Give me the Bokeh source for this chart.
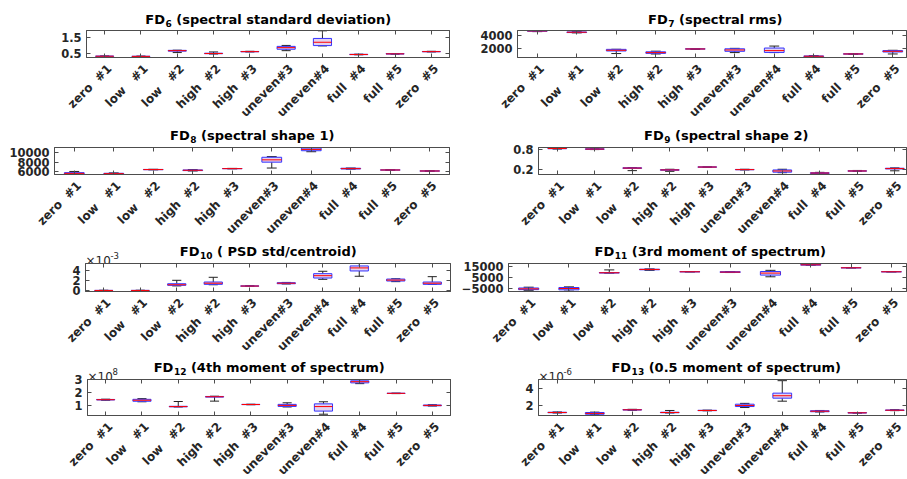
import math
import numpy as np
from bokeh.plotting import figure
from bokeh.layouts import column, row
from bokeh.models import (FixedTicker, LinearAxis, Range1d,
                          CustomJSTickFormatter, ColumnDataSource)
from bokeh.core.properties import value
from bokeh.embed import file_html
from bokeh.resources import INLINE

CATEGORIES = ["zero  #1", "low   #1", "low   #2", "high  #2", "high  #3",
              "uneven#3", "uneven#4", "full  #4", "full  #5", "zero  #5"]

# ---- FD6 (spectral standard deviation)
FD6_LO  = [0.30, 0.29, 0.56, 0.47, 0.60, 0.68, 0.98, 0.42, 0.46, 0.60]
FD6_Q1  = [0.32, 0.31, 0.65, 0.49, 0.61, 0.77, 1.00, 0.43, 0.47, 0.61]
FD6_MED = [0.33, 0.32, 0.68, 0.50, 0.62, 0.87, 1.21, 0.44, 0.48, 0.62]
FD6_Q3  = [0.34, 0.33, 0.70, 0.52, 0.63, 0.95, 1.45, 0.45, 0.49, 0.63]
FD6_HI  = [0.35, 0.34, 0.71, 0.60, 0.64, 1.01, 1.93, 0.46, 0.50, 0.64]
FD6_TICKS = [0.5, 1.5]

# ---- FD7 (spectral rms)
FD7_LO  = [4620, 4420, 1120, 1050, 1800, 1275, 1275, 550, 1000, 1055]
FD7_Q1  = [4680, 4470, 1530, 1150, 1830, 1480, 1300, 620, 1030, 1370]
FD7_MED = [4730, 4520, 1640, 1270, 1850, 1690, 1590, 690, 1055, 1480]
FD7_Q3  = [4770, 4570, 1790, 1400, 1880, 1880, 2000, 740, 1080, 1590]
FD7_HI  = [4790, 4600, 1800, 1500, 1900, 1950, 2315, 780, 1120, 1640]
FD7_TICKS = [2000, 4000]

# ---- FD8 (spectral shape 1)
FD8_LO  = [5480, 5470, 6440, 6200, 6650, 6820, 10260, 6600, 6370, 6150]
FD8_Q1  = [5560, 5560, 6470, 6280, 6680, 8060, 10470, 6620, 6390, 6180]
FD8_MED = [5700, 5640, 6500, 6350, 6700, 8550, 10740, 6700, 6410, 6200]
FD8_Q3  = [5850, 5720, 6530, 6420, 6720, 9090, 11030, 6780, 6430, 6220]
FD8_HI  = [6100, 5800, 6560, 6480, 6750, 9230, 11150, 6820, 6450, 6250]
FD8_TICKS = [6000, 8000, 10000]

# ---- FD9 (spectral shape 2)
FD9_LO  = [0.800, 0.785, 0.170, 0.150, 0.265, 0.190, 0.110, 0.070, 0.145, 0.165]
FD9_Q1  = [0.810, 0.790, 0.235, 0.180, 0.270, 0.195, 0.125, 0.085, 0.155, 0.220]
FD9_MED = [0.817, 0.800, 0.245, 0.190, 0.275, 0.200, 0.160, 0.100, 0.160, 0.230]
FD9_Q3  = [0.830, 0.810, 0.255, 0.200, 0.280, 0.205, 0.190, 0.110, 0.165, 0.240]
FD9_HI  = [0.840, 0.820, 0.260, 0.210, 0.285, 0.210, 0.210, 0.120, 0.175, 0.250]
FD9_TICKS = [0.2, 0.8]

# ---- FD10 ( PSD std/centroid), x 1e-3
FD10_LO  = [0.05, 0.05, 0.98, 1.20, 0.90, 1.35, 2.25, 2.84, 1.80, 1.28]
FD10_Q1  = [0.08, 0.08, 1.09, 1.28, 0.93, 1.40, 2.50, 3.86, 1.92, 1.28]
FD10_MED = [0.10, 0.10, 1.20, 1.50, 0.95, 1.50, 2.95, 4.45, 2.10, 1.50]
FD10_Q3  = [0.12, 0.12, 1.40, 1.73, 0.98, 1.60, 3.34, 4.83, 2.30, 1.73]
FD10_HI  = [0.15, 0.15, 2.06, 2.64, 1.00, 1.65, 3.80, 5.30, 2.35, 2.76]
FD10_TICKS = [0, 2, 4]

# ---- FD11 (3rd moment of spectrum)
FD11_LO  = [-7000, -7360, 9000, 11500, 10100, 9500, 5640, 16000, 13700, 10100]
FD11_Q1  = [-6000, -6180, 9100, 12000, 10150, 9600, 7180, 16200, 13750, 10150]
FD11_MED = [-5300, -5000, 9300, 12300, 10200, 9900, 9000, 16500, 13800, 10200]
FD11_Q3  = [-4500, -4090, 9400, 12500, 10250, 10300, 10450, 16800, 13850, 10250]
FD11_HI  = [-3800, -3500, 11900, 12800, 10300, 10400, 11500, 17600, 13900, 10300]
FD11_TICKS = [-5000, 5000, 15000]

# ---- FD12 (4th moment of spectrum), x 1e8
FD12_LO  = [1.40, 1.28, 0.88, 1.33, 1.05, 0.88, 0.32, 2.68, 1.91, 0.95]
FD12_Q1  = [1.42, 1.32, 0.89, 1.64, 1.06, 0.92, 0.56, 2.74, 1.92, 0.97]
FD12_MED = [1.44, 1.40, 0.91, 1.67, 1.07, 1.00, 0.91, 2.83, 1.93, 1.00]
FD12_Q3  = [1.46, 1.47, 0.93, 1.69, 1.08, 1.08, 1.12, 2.90, 1.94, 1.03]
FD12_HI  = [1.48, 1.52, 1.30, 1.71, 1.09, 1.20, 1.28, 3.00, 1.95, 1.05]
FD12_TICKS = [1, 2, 3]

# ---- FD13 (0.5 moment of spectrum), x 1e-6
FD13_LO  = [1.10, 0.90, 1.42, 1.10, 1.36, 1.75, 2.51, 1.22, 1.08, 1.38]
FD13_Q1  = [1.13, 0.95, 1.45, 1.13, 1.38, 1.87, 2.87, 1.25, 1.10, 1.40]
FD13_MED = [1.16, 1.05, 1.48, 1.16, 1.40, 2.00, 3.16, 1.31, 1.12, 1.43]
FD13_Q3  = [1.19, 1.16, 1.51, 1.19, 1.42, 2.15, 3.47, 1.37, 1.14, 1.46]
FD13_HI  = [1.22, 1.20, 1.54, 1.40, 1.44, 2.25, 4.96, 1.40, 1.16, 1.49]
FD13_TICKS = [2, 4]

FONT = "DejaVu Sans"
AX_COLOR = "#4d4d4d"
BOX_LINE = "#3434ff"
BOX_FILL = "#e4d2ee"
MED_COLOR = "#ff0000"
WHISK = "#222222"

COL_X = [0, 453]          # canvas x of each column
COL_W = [453, 454]
TITLE_H = [30, 26, 26, 26]
FRAME_H = [27, 27, 28, 36]
LABEL_H = [64, 63, 62, 64]
PAD = 9                   # overlapping border of each panel (top / bottom)

# approximate DejaVu Sans Bold advance widths (em)
_BW = {' ': .348, '(': .457, ')': .457, '.': .380, '/': .365, '#': .838,
       'A': .774, 'D': .830, 'F': .683, 'P': .733, 'S': .720,
       'a': .675, 'b': .716, 'c': .593, 'd': .716, 'e': .678, 'f': .435,
       'g': .716, 'h': .712, 'i': .343, 'k': .665, 'l': .343, 'm': 1.042,
       'n': .712, 'o': .687, 'p': .716, 'r': .493, 's': .595, 't': .478,
       'u': .712, 'v': .652, 'y': .652, 'x': .663}


def tw(s, size):
    return sum(_BW.get(c, .696) for c in s) * size


def bare_fig(W, H, xr, yr, **kw):
    f = figure(width=W, height=H, output_backend="svg", toolbar_location=None,
               x_range=xr, y_range=yr,
               x_axis_location=None, y_axis_location=None,
               min_border=0, min_border_left=0, min_border_right=0,
               min_border_top=0, min_border_bottom=0,
               outline_line_color=None, frame_align=False,
               background_fill_color=None, border_fill_color=None, **kw)
    f.grid.visible = False
    return f


def blank_axis(ticks):
    return LinearAxis(ticker=FixedTicker(ticks=ticks),
                      formatter=CustomJSTickFormatter(code="return ''"),
                      major_tick_in=4, major_tick_out=0,
                      minor_tick_in=0, minor_tick_out=0,
                      major_label_standoff=0,
                      axis_line_color=AX_COLOR, major_tick_line_color=AX_COLOR)


def title_fig(col, rw, left, full_right, sub, rest, exp):
    W, H = COL_W[col], TITLE_H[rw]
    # extends PAD px below the frame top, hidden under the panel
    t = bare_fig(W, H + PAD, Range1d(0, W), Range1d(-PAD, H),
                 margin=(0, 0, -PAD, 0))
    cx = (left + full_right) / 2 - COL_X[col]
    big, small = 13, 9
    gap = tw(" ", big)
    total = tw("FD", big) + tw(sub, small) + gap + tw(rest, big)
    ax = cx - total / 2 + tw("FD", big)
    base = 11 if rw == 0 else 12.5
    common = dict(text_baseline="alphabetic", text_font=value(FONT),
                  text_font_style="bold", text_color="black")
    t.text(x=[ax], y=[base], text=["FD"], text_align="right",
           text_font_size=f"{big}px", **common)
    t.text(x=[ax + 0.5], y=[base - 4], text=[sub], text_align="left",
           text_font_size=f"{small}px", **common)
    t.text(x=[ax + 0.5 + tw(sub, small) + gap], y=[base], text=[rest],
           text_align="left", text_font_size=f"{big}px", **common)
    if exp is not None:
        ex = left - COL_X[col]
        t.text(x=[ex], y=[2.8], text=["\u00d710"], text_align="left",
               text_baseline="alphabetic", text_font=value(FONT),
               text_font_size="12px", text_color="#262626")
        t.text(x=[ex + 25], y=[8.5], text=[exp], text_align="left",
               text_baseline="alphabetic", text_font=value(FONT),
               text_font_size="8.5px", text_color="#262626")
    return t


def label_fig(col, rw, left, full_right):
    W, H = COL_W[col], LABEL_H[rw]
    spacing = (full_right - left) / 10.0
    x0 = 0.5 - (left - COL_X[col]) / spacing
    f = bare_fig(W, H, Range1d(x0, x0 + W / spacing), Range1d(0, H))
    xs = list(range(1, len(CATEGORIES) + 1))
    f.text(x=xs, y=[H - 4] * len(xs),
           text=[c.replace(" ", "\u00a0") for c in CATEGORIES],
           angle=math.pi / 4, text_align="right", text_baseline="top",
           text_font=value(FONT), text_font_style="bold",
           text_font_size="12px", text_color="#262626")
    return f


def panel(col, rw, left, full_right, yr, yticks, lo, q1, med, q3, hi):
    W = COL_W[col]
    spacing = (full_right - left) / 10.0
    vis_right = min(full_right, COL_X[col] + W - 1)
    x_end = 0.5 + (vis_right - left) / spacing
    bl = left - COL_X[col]
    br = COL_X[col] + W - vis_right
    p = figure(width=W, height=FRAME_H[rw] + 2 * PAD, output_backend="svg",
               toolbar_location=None, frame_align=False,
               x_range=Range1d(0.5, x_end), y_range=Range1d(*yr),
               x_axis_location=None,
               min_border_left=int(round(bl)), min_border_right=int(round(br)),
               min_border_top=PAD, min_border_bottom=PAD,
               border_fill_color=None, background_fill_color="white",
               margin=(-PAD, 0, -PAD, 0))
    p.grid.visible = False
    p.outline_line_color = AX_COLOR

    xs = list(range(1, len(CATEGORIES) + 1))
    ya = p.yaxis[0]
    ya.ticker = FixedTicker(ticks=yticks)
    ya.major_tick_in = 4
    ya.major_tick_out = 0
    ya.minor_tick_in = 0
    ya.minor_tick_out = 0
    ya.axis_line_color = AX_COLOR
    ya.major_tick_line_color = AX_COLOR
    ya.major_label_text_font = FONT
    ya.major_label_text_font_style = "bold"
    ya.major_label_text_color = "#262626"
    ya.major_label_text_font_size = "11.5px"
    ya.major_label_standoff = 5
    p.add_layout(blank_axis(xs), "below")
    p.add_layout(blank_axis(xs), "above")
    p.add_layout(blank_axis(yticks), "right")

    src = ColumnDataSource(dict(x=np.array(xs, dtype=float), lo=lo, q1=q1,
                                med=med, q3=q3, hi=hi))
    src.data["xl"] = src.data["x"] - 0.25
    src.data["xr"] = src.data["x"] + 0.25
    src.data["cl"] = src.data["x"] - 0.125
    src.data["cr"] = src.data["x"] + 0.125
    p.segment("x", "q3", "x", "hi", source=src, line_color=WHISK, line_width=1)
    p.segment("x", "lo", "x", "q1", source=src, line_color=WHISK, line_width=1)
    p.segment("cl", "hi", "cr", "hi", source=src, line_color=WHISK, line_width=1)
    p.segment("cl", "lo", "cr", "lo", source=src, line_color=WHISK, line_width=1)
    p.quad(left="xl", right="xr", bottom="q1", top="q3", source=src,
           fill_color=BOX_FILL, line_color=BOX_LINE, line_width=1)
    p.segment("xl", "med", "xr", "med", source=src, line_color=MED_COLOR,
              line_width=1)
    return p


SPECS = [
    # col,row,left,right, sub, rest, exp, yrange, ticks, data
    (0, 0, 86, 449, "6", "(spectral standard deviation)", None, (0.25, 1.95),
     FD6_TICKS, (FD6_LO, FD6_Q1, FD6_MED, FD6_Q3, FD6_HI)),
    (1, 0, 517, 912, "7", "(spectral rms)", None, (490, 4800),
     FD7_TICKS, (FD7_LO, FD7_Q1, FD7_MED, FD7_Q3, FD7_HI)),
    (0, 1, 54, 449, "8", "(spectral shape 1)", None, (5460, 11150),
     FD8_TICKS, (FD8_LO, FD8_Q1, FD8_MED, FD8_Q3, FD8_HI)),
    (1, 1, 538, 913, "9", "(spectral shape 2)", None, (0.057, 0.846),
     FD9_TICKS, (FD9_LO, FD9_Q1, FD9_MED, FD9_Q3, FD9_HI)),
    (0, 2, 85, 450, "10", "( PSD std/centroid)", "-3", (-0.1, 5.3),
     FD10_TICKS, (FD10_LO, FD10_Q1, FD10_MED, FD10_Q3, FD10_HI)),
    (1, 2, 508, 911, "11", "(3rd moment of spectrum)", None, (-7700, 17700),
     FD11_TICKS, (FD11_LO, FD11_Q1, FD11_MED, FD11_Q3, FD11_HI)),
    (0, 3, 87, 450, "12", "(4th moment of spectrum)", "8", (0.22, 3.0),
     FD12_TICKS, (FD12_LO, FD12_Q1, FD12_MED, FD12_Q3, FD12_HI)),
    (1, 3, 538, 913, "13", "(0.5 moment of spectrum)", "-6", (0.8, 5.1),
     FD13_TICKS, (FD13_LO, FD13_Q1, FD13_MED, FD13_Q3, FD13_HI)),
]

cols = [[], []]
for col, rw, left, right, sub, rest, exp, yr, ticks, data in sorted(
        SPECS, key=lambda s: (s[0], s[1])):
    cols[col].append(title_fig(col, rw, left, right, sub, rest, exp))
    cols[col].append(panel(col, rw, left, right, yr, ticks, *data))
    cols[col].append(label_fig(col, rw, left, right))

layout = row([column(c, spacing=0) for c in cols], spacing=0)

open("out.html", "w").write(file_html(layout, INLINE))
